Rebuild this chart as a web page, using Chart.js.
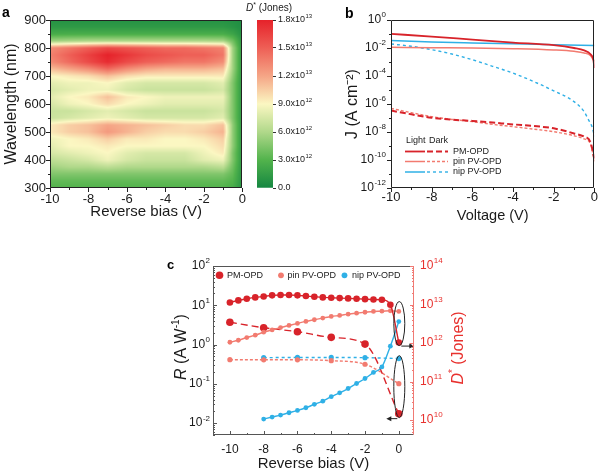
<!DOCTYPE html>
<html>
<head>
<meta charset="utf-8">
<script src="https://cdn.jsdelivr.net/npm/chart.js@4.4.1/dist/chart.umd.min.js"></script>
<style>
  html, body { margin: 0; padding: 0; background: #fff; }
  #wrap { position: relative; width: 600px; height: 476px; overflow: hidden; }
  canvas { position: absolute; }
</style>
</head>
<body>
<div id="wrap">
  <canvas id="heat" width="250" height="240" style="left:0px;top:0px"></canvas>
  <canvas id="cbar" width="75" height="240" style="left:240px;top:0px"></canvas>
  <canvas id="jv" width="300" height="240" style="left:300px;top:0px"></canvas>
  <canvas id="resp" width="320" height="236" style="left:150px;top:240px"></canvas>
</div>
<script>
'use strict';

const FONT = "'Liberation Sans', Arial, Helvetica, sans-serif";
Chart.defaults.font.family = FONT;
Chart.defaults.color = '#1a1a1a';

const RED = '#d8232a';
const SALMON = '#f27b70';
const BLUE = '#2fb0e6';

// ==================== DATA ====================

// (a) D* map, values in 10^12 Jones; rows follow mapWavelength, columns follow mapBias
const mapBias = [-10, -9, -8, -7, -6, -5, -4, -3, -2, -1, -0.5, 0];
const mapWavelength = [900, 875, 850, 825, 800, 775, 750, 725, 700, 675, 650, 625, 600,
                       575, 550, 525, 500, 475, 450, 425, 400, 375, 350, 325, 300];
const mapDstarE12 = [
    [0.8, 0.8, 0.8, 0.8, 0.8, 0.8, 0.8, 0.8, 0.8, 0.8, 0.7, 0.5],
    [1.3, 1.3, 1.3, 1.3, 1.3, 1.3, 1.3, 1.3, 1.3, 1.3, 1.0, 0.6],
    [2.5, 2.6, 2.6, 2.6, 2.6, 2.6, 2.6, 2.6, 2.6, 2.6, 2.0, 0.8],
    [5.5, 5.8, 6.0, 6.0, 6.0, 6.0, 6.0, 6.0, 6.0, 5.8, 4.0, 1.0],
    [13.0, 14.0, 15.0, 16.0, 15.5, 15.0, 14.5, 14.5, 14.0, 13.5, 5.5, 1.0],
    [13.5, 15.0, 16.5, 18.0, 17.0, 16.0, 15.5, 15.0, 15.0, 14.0, 5.5, 1.0],
    [13.0, 14.5, 16.0, 17.5, 16.0, 15.0, 14.5, 14.0, 14.0, 13.0, 5.5, 1.0],
    [11.0, 12.0, 13.0, 14.5, 13.0, 12.0, 11.5, 11.5, 11.5, 11.0, 5.5, 1.0],
    [9.0, 9.5, 10.0, 11.0, 10.0, 9.5, 9.5, 9.5, 9.5, 9.5, 5.0, 1.0],
    [8.0, 8.5, 8.5, 9.0, 8.0, 7.5, 7.5, 7.5, 7.5, 8.0, 4.5, 1.0],
    [7.5, 8.0, 8.5, 8.5, 7.5, 7.0, 7.0, 7.0, 7.0, 7.5, 4.5, 1.0],
    [8.0, 9.0, 9.5, 11.0, 9.5, 9.0, 8.5, 8.5, 8.5, 8.5, 4.5, 1.0],
    [7.5, 8.5, 9.0, 10.0, 9.0, 8.5, 8.0, 8.0, 8.0, 8.0, 4.5, 1.0],
    [7.0, 7.0, 7.5, 8.0, 7.5, 7.0, 7.0, 7.0, 7.0, 7.5, 4.5, 1.0],
    [7.0, 7.5, 8.0, 8.5, 8.0, 7.5, 7.5, 7.5, 7.5, 8.0, 4.5, 1.0],
    [9.5, 10.5, 11.0, 12.0, 11.5, 11.0, 10.5, 10.0, 10.0, 11.0, 5.0, 1.0],
    [9.5, 10.5, 11.0, 12.5, 11.5, 10.5, 10.0, 10.0, 10.5, 11.5, 5.0, 1.0],
    [8.5, 9.0, 9.5, 10.5, 9.5, 9.5, 9.0, 9.0, 9.5, 10.5, 5.0, 1.0],
    [8.0, 9.0, 9.0, 9.5, 9.0, 9.0, 9.0, 9.0, 9.0, 10.0, 5.0, 1.0],
    [7.5, 8.0, 8.5, 9.0, 8.0, 7.5, 7.5, 7.5, 8.5, 9.5, 4.5, 1.0],
    [6.5, 7.0, 7.5, 8.5, 7.5, 7.0, 7.0, 7.0, 8.0, 8.5, 4.5, 1.0],
    [5.5, 6.0, 6.0, 6.5, 6.0, 6.0, 6.0, 6.0, 6.0, 6.5, 4.0, 1.0],
    [4.5, 4.5, 4.5, 4.5, 4.5, 4.5, 4.5, 4.5, 4.5, 4.5, 3.5, 1.0],
    [3.5, 3.5, 3.5, 3.5, 3.5, 3.5, 3.5, 3.5, 3.5, 3.5, 3.0, 1.0],
    [3.0, 3.0, 3.0, 3.0, 3.0, 3.0, 3.0, 3.0, 3.0, 3.0, 2.5, 1.0]
];

// colour scale
const cmapValues = [0, 3e12, 6e12, 9e12, 1.2e13, 1.5e13, 1.8e13];
const cmapColors = ['#148641', '#52b34c', '#b0d88a', '#fbf7c2', '#f5a586', '#ee5f56', '#e6222a'];
const cbarTickLabels = ['0.0', '3.0x10^12', '6.0x10^12', '9.0x10^12', '1.2x10^13', '1.5x10^13', '1.8x10^13'];

// (b) J-V curves: light (solid) and dark (dashed), A cm^-2
const vPmLight = [-10, -8, -6, -4, -2, -1, -0.5, -0.2, -0.05, 0];
const jPmLight = [1.02e-1, 6.6e-2, 4.0e-2, 2.45e-2, 1.58e-2, 1.0e-2, 6.8e-3, 3.7e-3, 1.45e-3, 3.7e-4];
const vPinLight = [-10, -8, -6, -4, -2, -1, -0.5, -0.2, 0];
const jPinLight = [1.12e-2, 1.05e-2, 1.0e-2, 8.9e-3, 7.2e-3, 5.75e-3, 4.4e-3, 2.95e-3, 1.1e-3];
const vNipLight = [-10, -8, -6, -4, -2, 0];
const jNipLight = [3.4e-2, 2.7e-2, 2.3e-2, 2.0e-2, 1.74e-2, 1.48e-2];
const vDark = [-10, -9, -8, -7, -6, -5, -4, -3, -2, -1, -0.5, -0.2, 0];
const jPmDark = [3.4e-7, 1.82e-7, 1.05e-7, 7.6e-8, 6.2e-8, 4.7e-8, 3.5e-8, 2.7e-8, 1.82e-8, 7.9e-9, 4.6e-9, 2.0e-9, 1.26e-10];
const jPinDark = [4.9e-7, 2.4e-7, 1.26e-7, 7.9e-8, 5.5e-8, 3.5e-8, 2.4e-8, 1.62e-8, 1.05e-8, 5.4e-9, 3.2e-9, 1.5e-9, 7.9e-11];
const vNipDark = [-10, -9, -8, -7, -6, -5, -4, -3, -2, -1, -0.5, -0.3, -0.1, 0];
const jNipDark = [1.95e-2, 1.32e-2, 7.6e-3, 3.7e-3, 1.45e-3, 4.9e-4, 1.6e-4, 4.1e-5, 8.7e-6, 1.48e-6, 2.8e-7, 7.9e-8, 2.0e-8, 5.0e-9];
const jTicks = [1, 1e-2, 1e-4, 1e-6, 1e-8, 1e-10, 1e-12];
const jTickLabels = ['10^0', '10^-2', '10^-4', '10^-6', '10^-8', '10^-10', '10^-12'];

// (c) detectivity (solid, right axis) and responsivity (dashed, left axis)
const biasHalf = [-10, -9.5, -9, -8.5, -8, -7.5, -7, -6.5, -6, -5.5, -5, -4.5, -4, -3.5, -3, -2.5, -2, -1.5, -1, -0.5, 0];
const dPm = [1.13e13, 1.28e13, 1.41e13, 1.53e13, 1.62e13, 1.73e13, 1.76e13, 1.76e13, 1.73e13, 1.66e13, 1.59e13,
             1.53e13, 1.50e13, 1.47e13, 1.44e13, 1.41e13, 1.38e13, 1.35e13, 1.33e13, 9.9e12, 1.03e12];
const dPin = [1.05e12, 1.18e12, 1.39e12, 1.60e12, 1.91e12, 2.19e12, 2.52e12, 2.86e12, 3.24e12, 3.64e12, 4.02e12,
              4.44e12, 4.90e12, 5.2e12, 5.62e12, 5.97e12, 6.3e12, 6.6e12, 6.7e12, 6.9e12, 6.6e12];
const biasNip = [-8, -7.5, -7, -6.5, -6, -5.5, -5, -4.5, -4, -3.5, -3, -2.5, -2, -1.5, -1, -0.5, 0];
const dNip = [1.06e10, 1.2e10, 1.35e10, 1.55e10, 1.78e10, 2.09e10, 2.56e10, 3.1e10, 4.05e10, 5.1e10,
              6.6e10, 8.9e10, 1.2e11, 1.73e11, 2.4e11, 8.3e11, 3.6e12];
const biasR = [-10, -8, -6, -4, -2, 0];
const rPm = [3.69, 2.69, 2.13, 1.53, 1.03, 0.0174];
const rPin = [0.413, 0.41, 0.41, 0.39, 0.316, 0.101];
const biasRNip = [-8, -6, -4, -2, 0];
const rNip = [0.465, 0.47, 0.47, 0.465, 0.44];
const rTicks = [1e-2, 1e-1, 1, 10, 100];
const rTickLabels = ['10^-2', '10^-1', '10^0', '10^1', '10^2'];
const dTicks = [1e10, 1e11, 1e12, 1e13, 1e14];
const dTickLabels = ['10^10', '10^11', '10^12', '10^13', '10^14'];

// ==================== HELPERS ====================

const pts = (xs, ys) => xs.map((x, i) => ({ x, y: ys[i] }));

const isEven = v => Math.abs(v - Math.round(v)) < 1e-6 && Math.round(v) % 2 === 0;
const evenLabel = v => (isEven(v) ? String(Math.round(v)) : '');
const isDecade = v => Math.abs(Math.log10(v) - Math.round(Math.log10(v))) < 1e-6;

// integer ticks from a to b (keeps 0 when the axis runs a bit past it)
function intTicks(a, b) {
    const out = [];
    for (let v = a; v <= b; v++) out.push({ value: v });
    return out;
}

function inList(values, v) {
    return values.some(t => Math.abs(Math.log10(t) - Math.log10(v)) < 1e-6);
}

// decade ticks (and optional 2..9 minors) inside [min, max]
function logTicks(min, max, withMinor) {
    const out = [];
    for (let e = Math.floor(Math.log10(min)); e <= Math.ceil(Math.log10(max)); e++) {
        const steps = withMinor ? [1, 2, 3, 4, 5, 6, 7, 8, 9] : [1];
        steps.forEach(m => {
            const v = Number(m + 'e' + e);
            if (v >= min * 0.999 && v <= max * 1.001) out.push({ value: v });
        });
    }
    return out;
}

function hexRgb(h) {
    return [1, 3, 5].map(i => parseInt(h.slice(i, i + 2), 16));
}
const cmapRgb = cmapColors.map(hexRgb);

function colorFor(v) {
    if (v <= cmapValues[0]) return cmapRgb[0];
    for (let i = 0; i < cmapValues.length - 1; i++) {
        if (v <= cmapValues[i + 1]) {
            const t = (v - cmapValues[i]) / (cmapValues[i + 1] - cmapValues[i]);
            return cmapRgb[i].map((c, k) => c + (cmapRgb[i + 1][k] - c) * t);
        }
    }
    return cmapRgb[cmapRgb.length - 1];
}

function bracket(arr, v) {
    for (let i = 0; i < arr.length - 1; i++) {
        if ((v - arr[i]) * (v - arr[i + 1]) <= 0) return [i, (v - arr[i]) / (arr[i + 1] - arr[i])];
    }
    return Math.abs(v - arr[0]) < Math.abs(v - arr[arr.length - 1]) ? [0, 0] : [arr.length - 2, 1];
}

function richText(ctx, parts, bx, by, angle, color) {
    ctx.save();
    ctx.translate(bx, by);
    ctx.rotate(angle);
    ctx.fillStyle = color;
    ctx.textBaseline = 'alphabetic';
    let total = 0;
    parts.forEach(p => { ctx.font = p.font; total += ctx.measureText(p.text).width; });
    let x = -total / 2;
    parts.forEach(p => {
        ctx.font = p.font;
        ctx.fillText(p.text, x, p.dy || 0);
        x += ctx.measureText(p.text).width;
    });
    ctx.restore();
}

// "10^-2" -> 10 with a raised, smaller exponent
function drawPower(ctx, label, x, y, align, size, color) {
    const [base, exp] = label.split('^');
    const es = Math.round(size * 0.64);
    ctx.font = `${size}px ${FONT}`;
    const wb = ctx.measureText(base).width;
    let we = 0;
    if (exp) { ctx.font = `${es}px ${FONT}`; we = ctx.measureText(exp).width + 0.5; }
    const x0 = align === 'right' ? x - wb - we : x;
    ctx.fillStyle = color;
    ctx.textBaseline = 'middle';
    ctx.font = `${size}px ${FONT}`;
    ctx.fillText(base, x0, y);
    if (exp) {
        ctx.font = `${es}px ${FONT}`;
        ctx.fillText(exp, x0 + wb + 0.5, y - size * 0.4);
    }
}

// ==================== SHARED PLUGINS ====================

function makeTickMarks(id, specs) {
    return {
        id,
        afterDraw(chart) {
            const { ctx, chartArea: a } = chart;
            specs.forEach(spec => {
                const s = chart.scales[spec.id];
                const sign = spec.dir === 'in' ? -1 : 1;
                ctx.save();
                ctx.strokeStyle = spec.color || '#222';
                ctx.lineWidth = 1;
                ctx.beginPath();
                s.ticks.forEach(t => {
                    const p = Math.round(s.getPixelForValue(t.value)) + 0.5;
                    const len = spec.major(t.value) ? 4 : 2;
                    if (spec.side === 'bottom') {
                        ctx.moveTo(p, a.bottom); ctx.lineTo(p, a.bottom + sign * len);
                    } else if (spec.side === 'left') {
                        ctx.moveTo(a.left, p); ctx.lineTo(a.left - sign * len, p);
                    } else {
                        ctx.moveTo(a.right, p); ctx.lineTo(a.right + sign * len, p);
                    }
                });
                ctx.stroke();
                ctx.restore();
            });
        }
    };
}

function makePowerLabels(id, specs) {
    return {
        id,
        afterDraw(chart) {
            const { ctx, chartArea: a } = chart;
            specs.forEach(spec => {
                const s = chart.scales[spec.id];
                ctx.save();
                spec.values.forEach((v, i) => {
                    const y = s.getPixelForValue(v);
                    if (spec.side === 'left') drawPower(ctx, spec.labels[i], a.left - spec.gap, y, 'right', spec.size, spec.color);
                    else drawPower(ctx, spec.labels[i], a.right + spec.gap, y, 'left', spec.size, spec.color);
                });
                ctx.restore();
            });
        }
    };
}

function makeFrame(id, color, rightColor) {
    return {
        id,
        afterDraw(chart) {
            const { ctx, chartArea: a } = chart;
            const l = Math.round(a.left) + 0.5, r = Math.round(a.right) - 0.5;
            const t = Math.round(a.top) + 0.5, b = Math.round(a.bottom) - 0.5;
            ctx.save();
            ctx.lineWidth = 1;
            ctx.strokeStyle = color;
            ctx.beginPath();
            ctx.moveTo(r, t); ctx.lineTo(l, t); ctx.lineTo(l, b); ctx.lineTo(r, b);
            ctx.stroke();
            ctx.strokeStyle = rightColor || color;
            ctx.beginPath();
            ctx.moveTo(r, t); ctx.lineTo(r, b);
            ctx.stroke();
            ctx.restore();
        }
    };
}

function makePanelLabel(id, text, x, y, size) {
    return {
        id,
        afterDraw(chart) {
            const ctx = chart.ctx;
            ctx.save();
            ctx.font = `bold ${size}px ${FONT}`;
            ctx.fillStyle = '#000';
            ctx.fillText(text, x, y);
            ctx.restore();
        }
    };
}

// ==================== (a) D* MAP ====================

const heatmapPlugin = {
    id: 'heatmap',
    beforeDatasetsDraw(chart) {
        const { ctx, chartArea: a, scales: { x, y } } = chart;
        const w = Math.round(a.right - a.left), h = Math.round(a.bottom - a.top);
        const off = document.createElement('canvas');
        off.width = w; off.height = h;
        const octx = off.getContext('2d');
        const img = octx.createImageData(w, h);
        for (let j = 0; j < h; j++) {
            const lam = y.getValueForPixel(a.top + j + 0.5);
            const [r0, tr] = bracket(mapWavelength, lam);
            for (let i = 0; i < w; i++) {
                const v = x.getValueForPixel(a.left + i + 0.5);
                const [c0, tc] = bracket(mapBias, v);
                const top = mapDstarE12[r0][c0] * (1 - tc) + mapDstarE12[r0][c0 + 1] * tc;
                const bot = mapDstarE12[r0 + 1][c0] * (1 - tc) + mapDstarE12[r0 + 1][c0 + 1] * tc;
                const rgb = colorFor((top * (1 - tr) + bot * tr) * 1e12);
                const k = (j * w + i) * 4;
                img.data[k] = rgb[0]; img.data[k + 1] = rgb[1]; img.data[k + 2] = rgb[2]; img.data[k + 3] = 255;
            }
        }
        octx.putImageData(img, 0, 0);
        ctx.drawImage(off, a.left, a.top);
    }
};

new Chart(document.getElementById('heat'), {
    type: 'scatter',
    data: { datasets: [] },
    options: {
        responsive: false,
        animation: false,
        devicePixelRatio: 1,
        layout: { padding: { top: 20, right: 6, left: 0, bottom: 0 } },
        plugins: { legend: { display: false }, tooltip: { enabled: false } },
        scales: {
            x: {
                type: 'linear', min: -10, max: 0,
                afterFit: s => { s.height = 52; },
                afterBuildTicks: s => { s.ticks = intTicks(-10, 0); },
                grid: { display: false, drawTicks: false },
                border: { display: false },
                ticks: {
                    autoSkip: false, maxRotation: 0, padding: 4,
                    font: { size: 13 },
                    callback: evenLabel
                },
                title: { display: true, text: 'Reverse bias (V)', font: { size: 15 }, padding: { top: 0, bottom: 19 } }
            },
            y: {
                type: 'linear', min: 300, max: 900,
                afterFit: s => { s.width = 50; },
                grid: { display: false, drawTicks: false },
                border: { display: false },
                ticks: {
                    stepSize: 50, autoSkip: false, padding: 4,
                    font: { size: 13 },
                    callback: v => (v % 100 === 0 ? v : '')
                },
                title: { display: true, text: 'Wavelength (nm)', font: { size: 16 }, padding: { top: 2, bottom: 0 } }
            }
        }
    },
    plugins: [
        heatmapPlugin,
        makeFrame('frameA', '#222'),
        makeTickMarks('ticksA', [
            { id: 'x', side: 'bottom', dir: 'out', major: isEven },
            { id: 'y', side: 'left', dir: 'out', major: v => v % 100 === 0 }
        ]),
        makePanelLabel('labelA', 'a', 2, 17, 14)
    ]
});

// colour bar
const cbarMax = cmapValues[cmapValues.length - 1];
new Chart(document.getElementById('cbar'), {
    type: 'bar',
    data: {
        labels: [''],
        datasets: [{
            data: [cbarMax],
            borderWidth: 0,
            barPercentage: 1,
            categoryPercentage: 1,
            backgroundColor(context) {
                const chart = context.chart;
                if (!chart.chartArea) return cmapColors[0];
                const ys = chart.scales.y;
                const g = chart.ctx.createLinearGradient(0, ys.getPixelForValue(0), 0, ys.getPixelForValue(cbarMax));
                cmapValues.forEach((v, i) => g.addColorStop(v / cbarMax, cmapColors[i]));
                return g;
            }
        }]
    },
    options: {
        responsive: false,
        animation: false,
        devicePixelRatio: 1,
        layout: { padding: { top: 20, right: 0, left: 17, bottom: 52 } },
        plugins: { legend: { display: false }, tooltip: { enabled: false } },
        scales: {
            x: { display: false },
            y: {
                position: 'right', min: 0, max: cbarMax,
                afterFit: s => { s.width = 42; },
                afterBuildTicks: s => { s.ticks = cmapValues.map(v => ({ value: v })); },
                grid: { display: true, drawOnChartArea: false, drawTicks: true, tickLength: 3, color: '#333' },
                border: { display: false },
                ticks: { display: false }
            }
        }
    },
    plugins: [
        makePowerLabels('cbarLabels', [
            { id: 'y', side: 'right', values: cmapValues, labels: cbarTickLabels, gap: 5, size: 9, color: '#1a1a1a' }
        ]),
        {
            id: 'cbarTitle',
            afterDraw(chart) {
                richText(chart.ctx, [
                    { text: 'D', font: `italic 10px ${FONT}` },
                    { text: '*', font: `7px ${FONT}`, dy: -4 },
                    { text: ' (Jones)', font: `10px ${FONT}` }
                ], 29, 11, 0, '#1a1a1a');
            }
        }
    ]
});

// ==================== (b) J-V ====================

const jvLegend = {
    id: 'jvLegend',
    afterDraw(chart) {
        const ctx = chart.ctx;
        const ds = chart.data.datasets;
        ctx.save();
        ctx.font = `9px ${FONT}`;
        ctx.fillStyle = '#1a1a1a';
        ctx.textBaseline = 'middle';
        ctx.fillText('Light', 106, 141);
        ctx.fillText('Dark', 129, 141);
        [[0, 3, 151.5], [1, 4, 161.5], [2, 5, 172]].forEach(([li, di, y]) => {
            [[ds[li], 105, 125], [ds[di], 127, 148]].forEach(([d, x0, x1]) => {
                ctx.save();
                ctx.strokeStyle = d.borderColor;
                ctx.lineWidth = d.borderWidth;
                ctx.setLineDash(d.borderDash || []);
                ctx.beginPath();
                ctx.moveTo(x0, y); ctx.lineTo(x1, y);
                ctx.stroke();
                ctx.restore();
            });
            ctx.fillText(ds[li].label, 153, y);
        });
        ctx.restore();
    }
};

const jvLine = (label, xs, ys, color, width, dash) => ({
    label,
    data: pts(xs, ys),
    borderColor: color,
    backgroundColor: color,
    borderWidth: width,
    borderDash: dash,
    pointRadius: 0,
    cubicInterpolationMode: 'monotone'
});

new Chart(document.getElementById('jv'), {
    type: 'line',
    data: {
        datasets: [
            jvLine('PM-OPD', vPmLight, jPmLight, RED, 1.8, []),
            jvLine('pin PV-OPD', vPinLight, jPinLight, SALMON, 1.5, []),
            jvLine('nip PV-OPD', vNipLight, jNipLight, BLUE, 1.5, []),
            jvLine('PM-OPD dark', vDark, jPmDark, RED, 2, [6, 3]),
            jvLine('pin PV-OPD dark', vDark, jPinDark, SALMON, 1.4, [3, 2]),
            jvLine('nip PV-OPD dark', vNipDark, jNipDark, BLUE, 1.4, [3, 3])
        ]
    },
    options: {
        responsive: false,
        animation: false,
        devicePixelRatio: 1,
        layout: { padding: { top: 20, right: 4, left: 0, bottom: 0 } },
        plugins: { legend: { display: false }, tooltip: { enabled: false } },
        scales: {
            x: {
                type: 'linear', min: -10, max: 0,
                afterFit: s => { s.height = 52; },
                afterBuildTicks: s => { s.ticks = intTicks(-10, 0); },
                grid: { display: false, drawTicks: false },
                border: { display: false },
                ticks: {
                    autoSkip: false, maxRotation: 0, padding: 2,
                    font: { size: 13 },
                    callback: evenLabel
                },
                title: { display: true, text: 'Voltage (V)', font: { size: 14.5 }, padding: { top: 0, bottom: 15 } }
            },
            y: {
                type: 'logarithmic', min: 1e-12, max: 1,
                afterFit: s => { s.width = 91; },
                afterBuildTicks: s => { s.ticks = logTicks(1e-12, 1, false); },
                grid: { display: false, drawTicks: false },
                border: { display: false },
                ticks: { display: false },
                title: { display: true, text: 'J (A cm⁻²)', font: { size: 16 }, padding: { top: 43, bottom: 0 } }
            }
        }
    },
    plugins: [
        makeFrame('frameB', '#222'),
        makeTickMarks('ticksB', [
            { id: 'x', side: 'bottom', dir: 'out', major: isEven },
            { id: 'y', side: 'left', dir: 'out', major: v => inList(jTicks, v) }
        ]),
        makePowerLabels('labelsB', [
            { id: 'y', side: 'left', values: jTicks, labels: jTickLabels, gap: 5, size: 12, color: '#1a1a1a' }
        ]),
        jvLegend,
        makePanelLabel('labelB', 'b', 45, 18, 14)
    ]
});

// ==================== (c) R AND D* ====================

const respLegend = {
    id: 'respLegend',
    afterDraw(chart) {
        const ctx = chart.ctx;
        const ds = chart.data.datasets;
        ctx.save();
        ctx.font = `9px ${FONT}`;
        ctx.textBaseline = 'middle';
        [[0, 69.5, 77], [1, 131, 137.5], [2, 194.5, 202]].forEach(([i, dotX, textX]) => {
            ctx.beginPath();
            ctx.arc(dotX, 35.3, ds[i].pointRadius + 0.5, 0, 2 * Math.PI);
            ctx.fillStyle = ds[i].backgroundColor;
            ctx.fill();
            ctx.fillStyle = '#1a1a1a';
            ctx.fillText(ds[i].label, textX, 35.5);
        });
        ctx.restore();
    }
};

function arrow(ctx, x0, y, x1) {
    const dir = Math.sign(x1 - x0);
    ctx.beginPath();
    ctx.moveTo(x0, y); ctx.lineTo(x1 - dir * 3, y);
    ctx.stroke();
    ctx.beginPath();
    ctx.moveTo(x1, y); ctx.lineTo(x1 - dir * 5, y - 2.5); ctx.lineTo(x1 - dir * 5, y + 2.5);
    ctx.closePath();
    ctx.fill();
}

const callouts = {
    id: 'callouts',
    afterDatasetsDraw(chart) {
        const { ctx, scales: { x, y, y2 } } = chart;
        const cx = x.getPixelForValue(0) + 0.5;
        ctx.save();
        ctx.strokeStyle = '#222';
        ctx.fillStyle = '#222';
        ctx.lineWidth = 1;
        // upper ellipse: D* curves -> right axis
        const uy = y2.getPixelForValue(3.2e12);
        ctx.beginPath();
        ctx.ellipse(cx, uy, 5.5, 22, 0, 0, 2 * Math.PI);
        ctx.stroke();
        arrow(ctx, cx + 2, uy + 22.5, cx + 15);
        // lower ellipse: R curves -> left axis
        const ly = y.getPixelForValue(0.085);
        ctx.beginPath();
        ctx.ellipse(cx, ly, 5.5, 31, 0, 0, 2 * Math.PI);
        ctx.stroke();
        arrow(ctx, cx - 2, ly + 32, cx - 13);
        ctx.restore();
    }
};

const respTitles = {
    id: 'respTitles',
    afterDraw(chart) {
        const ctx = chart.ctx;
        richText(ctx, [
            { text: 'R', font: `italic 16px ${FONT}` },
            { text: ' (A W', font: `16px ${FONT}` },
            { text: '-1', font: `10px ${FONT}`, dy: -7 },
            { text: ')', font: `16px ${FONT}` }
        ], 35.8, 107, -Math.PI / 2, '#1a1a1a');
        richText(ctx, [
            { text: 'D', font: `italic 16px ${FONT}` },
            { text: '*', font: `10px ${FONT}`, dy: -7 },
            { text: ' (Jones)', font: `16px ${FONT}` }
        ], 312.5, 108, -Math.PI / 2, '#e8312e');
    }
};

const respLine = (label, xs, ys, axis, color, radius, dash) => ({
    label,
    data: pts(xs, ys),
    yAxisID: axis,
    borderColor: color,
    backgroundColor: color,
    borderWidth: 1.4,
    borderDash: dash,
    pointRadius: radius,
    pointBorderWidth: 0,
    cubicInterpolationMode: 'monotone'
});

new Chart(document.getElementById('resp'), {
    type: 'line',
    data: {
        datasets: [
            respLine('PM-OPD', biasHalf, dPm, 'y2', RED, 3.3, []),
            respLine('pin PV-OPD', biasHalf, dPin, 'y2', SALMON, 2.4, []),
            respLine('nip PV-OPD', biasNip, dNip, 'y2', BLUE, 2.4, []),
            respLine('PM-OPD R', biasR, rPm, 'y', RED, 3.8, [7, 4]),
            respLine('pin PV-OPD R', biasR, rPin, 'y', SALMON, 2.6, [3, 2]),
            respLine('nip PV-OPD R', biasRNip, rNip, 'y', BLUE, 2.6, [3, 3])
        ]
    },
    options: {
        responsive: false,
        animation: false,
        devicePixelRatio: 1,
        layout: { padding: { top: 26, right: 0, left: 0, bottom: 0 } },
        plugins: { legend: { display: false }, tooltip: { enabled: false } },
        scales: {
            x: {
                type: 'linear', min: -11, max: 0.9,
                afterFit: s => { s.height = 41; },
                afterBuildTicks: s => { s.ticks = intTicks(-11, 0); },
                grid: { display: false, drawTicks: false },
                border: { display: false },
                ticks: {
                    autoSkip: false, maxRotation: 0, padding: 7,
                    font: { size: 12 },
                    callback: evenLabel
                },
                title: { display: true, text: 'Reverse bias (V)', font: { size: 15 }, padding: { top: 0, bottom: 3 } }
            },
            y: {
                type: 'logarithmic', position: 'left', min: 0.005, max: 100,
                afterFit: s => { s.width = 63; },
                afterBuildTicks: s => { s.ticks = logTicks(0.005, 100, true); },
                grid: { display: false, drawTicks: false },
                border: { display: false },
                ticks: { display: false }
            },
            y2: {
                type: 'logarithmic', position: 'right', min: 4.1e9, max: 1e14,
                afterFit: s => { s.width = 56; },
                afterBuildTicks: s => { s.ticks = logTicks(4.1e9, 1e14, true); },
                grid: { display: false, drawTicks: false },
                border: { display: false },
                ticks: { display: false }
            }
        }
    },
    plugins: [
        makeFrame('frameC', '#555', '#f07a74'),
        makeTickMarks('ticksC', [
            { id: 'x', side: 'bottom', dir: 'in', major: isEven, color: '#555' },
            { id: 'y', side: 'left', dir: 'in', major: isDecade, color: '#555' },
            { id: 'y2', side: 'right', dir: 'in', major: isDecade, color: '#f07a74' }
        ]),
        makePowerLabels('labelsC', [
            { id: 'y', side: 'left', values: rTicks, labels: rTickLabels, gap: 3, size: 12, color: '#1a1a1a' },
            { id: 'y2', side: 'right', values: dTicks, labels: dTickLabels, gap: 6, size: 12, color: '#e8312e' }
        ]),
        callouts,
        respLegend,
        respTitles,
        makePanelLabel('labelC', 'c', 17, 28.5, 13)
    ]
});
</script>
</body>
</html>
